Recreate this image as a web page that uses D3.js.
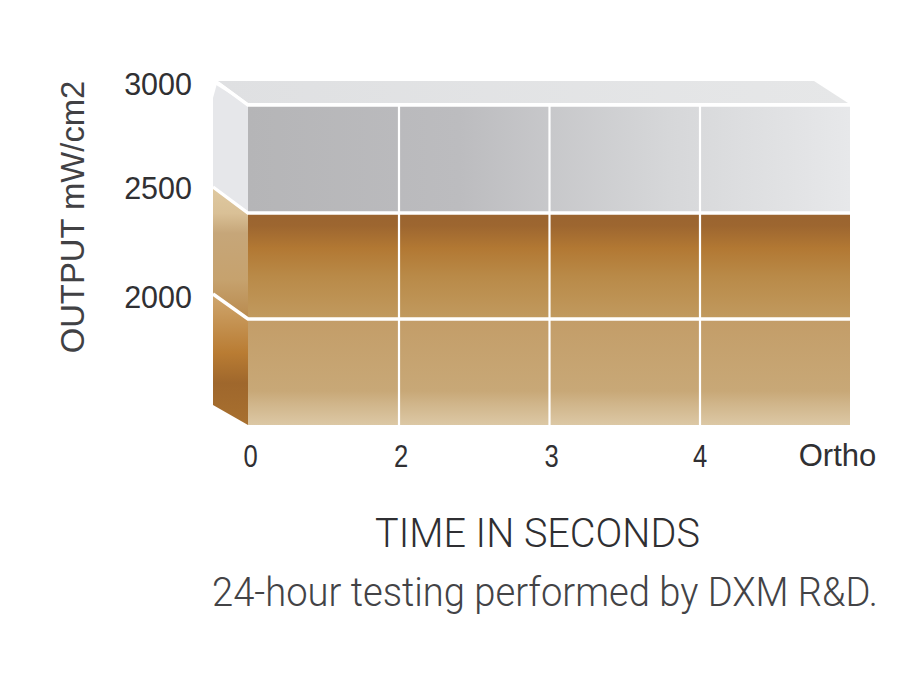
<!DOCTYPE html>
<html>
<head>
<meta charset="utf-8">
<script src="https://cdn.jsdelivr.net/npm/d3@7"></script>
<style>
body { margin: 0; background: #fff; }
</style>
</head>
<body>
<svg id="graph" width="900" height="700"></svg>
<script>
// values
const timeLabels = ['0', '2', '3', '4', 'Ortho'];
const outputLevels = [1500, 2000, 2500, 3000];
const outputTicks = [2000, 2500, 3000];
const bands = [
  { id: 'low', from: 1500, to: 2000 },
  { id: 'mid', from: 2000, to: 2500 },
  { id: 'high', from: 2500, to: 3000 }
];

const svg = d3.select('#graph');
const defs = svg.append('defs');

function gradient(id, stops, horizontal) {
  const g = defs.append('linearGradient')
    .attr('id', id)
    .attr('x1', 0).attr('y1', 0)
    .attr('x2', horizontal ? 1 : 0).attr('y2', horizontal ? 0 : 1);
  stops.forEach(s => g.append('stop').attr('offset', s[0]).attr('stop-color', s[1]));
}

gradient('front-high', [[0, '#b5b5b7'], [0.35, '#bcbcbf'], [0.7, '#d6d7d9'], [1, '#e7e8ea']], true);
gradient('front-mid', [[0, '#9a6430'], [0.12, '#9d6630'], [0.33, '#b27833'], [0.6, '#b98a48'], [1, '#c19a5f']]);
gradient('front-low', [[0, '#c39d68'], [0.68, '#c8a877'], [0.8, '#d0b58a'], [1, '#dcc8a5']]);
gradient('side-high', [[0, '#e6e7ea'], [1, '#e6e7ea']]);
gradient('side-mid', [[0, '#dfc9a1'], [0.2, '#d9c096'], [0.35, '#c6a679'], [0.7, '#c6a26e'], [1, '#b98a4d']]);
gradient('side-low', [[0, '#cfa76f'], [0.45, '#b97c33'], [0.68, '#9f672c'], [1, '#a8702f']]);
gradient('top-face', [[0, '#dfe0e2'], [1, '#e6e7e8']], true);

const x = d3.scalePoint().domain(timeLabels).range([248, 850]);
const y = d3.scaleLinear().domain(outputLevels).range([425, 319, 213, 105]);
// back edge of the block, seen in perspective
const xBack = 213;
const yBack = d3.scaleLinear().domain(outputLevels).range([405, 294, 187, 83]);

const line = d3.line();

// front faces
svg.selectAll('rect.front')
  .data(bands)
  .enter()
  .append('rect')
  .attr('class', 'front')
  .attr('x', x('0'))
  .attr('y', d => y(d.to))
  .attr('width', x('Ortho') - x('0'))
  .attr('height', d => y(d.from) - y(d.to))
  .attr('fill', d => `url(#front-${d.id})`);

// left side faces
svg.selectAll('path.side')
  .data(bands)
  .enter()
  .append('path')
  .attr('class', 'side')
  .attr('d', d => line([
    [xBack, yBack(d.to)], [x('0'), y(d.to)],
    [x('0'), y(d.from)], [xBack, yBack(d.from)]
  ]) + 'Z')
  .attr('fill', d => `url(#side-${d.id})`);

// clipped corner at the top of the side
svg.append('path')
  .attr('d', line([[xBack - 1, yBack(3000) - 3], [218, yBack(3000) - 3], [xBack, yBack(3000) + 15], [xBack - 1, yBack(3000) + 15]]) + 'Z')
  .attr('fill', '#fff');

// top face
const yTop = y(3000);
svg.append('path')
  .attr('d', line([[218, yBack(3000) - 2], [814, yBack(3000) - 2], [848, yTop - 2], [x('0'), yTop - 2]]) + 'Z')
  .attr('fill', 'url(#top-face)');

// white grid on the front
svg.selectAll('line.v')
  .data(timeLabels.slice(1, -1))
  .enter()
  .append('line')
  .attr('class', 'v')
  .attr('x1', d => x(d) + 0.5).attr('x2', d => x(d) + 0.5)
  .attr('y1', y(3000)).attr('y2', y(1500))
  .attr('stroke', '#fff').attr('stroke-width', 2.2);

svg.selectAll('path.h')
  .data(outputTicks)
  .enter()
  .append('path')
  .attr('class', 'h')
  .attr('d', d => line([[d === 3000 ? 218 : xBack, yBack(d)], [x('0'), y(d)], [x('Ortho'), y(d)]]))
  .attr('fill', 'none')
  .attr('stroke', '#fff')
  .attr('stroke-width', 3.4);

// axes
const yAxis = svg.append('g')
  .attr('transform', 'translate(192, 2)')
  .call(d3.axisLeft(yBack).tickValues(outputTicks).tickFormat(d3.format('d')).tickSize(0).tickPadding(0));
const xAxis = svg.append('g')
  .attr('transform', 'translate(2, 444)')
  .call(d3.axisBottom(x).tickSize(0).tickPadding(0));
yAxis.select('.domain').remove();
xAxis.select('.domain').remove();
yAxis.selectAll('text')
  .attr('font-family', '"Liberation Sans", sans-serif')
  .attr('font-size', 30.5)
  .attr('fill', '#303033')
  .attr('y', d => d === 2000 ? 2 : 0);
xAxis.selectAll('text')
  .attr('font-family', '"Liberation Sans", sans-serif')
  .attr('font-size', d => d === 'Ortho' ? 31 : 32)
  .attr('dy', '0.71em')
  .attr('fill', '#303033')
  .attr('transform', d => d === 'Ortho' ? 'translate(-15, 0)' : d === '4' ? 'translate(-2, 0) scale(0.8, 1)' : 'scale(0.8, 1)');

// titles
svg.append('text')
  .attr('transform', 'translate(84, 217) rotate(-90)')
  .attr('text-anchor', 'middle')
  .attr('font-family', '"Liberation Sans", sans-serif')
  .attr('font-size', 32.8)
  .attr('fill', '#414144')
  .text('OUTPUT mW/cm2');

// squeeze a caption to the width it has in the picture
function caption(text, left, baseline, span, fill) {
  const t = svg.append('text')
    .attr('font-family', 'Roboto, sans-serif')
    .attr('font-weight', 300)
    .attr('font-size', 40)
    .attr('fill', fill)
    .text(text);
  const sx = span / t.node().getComputedTextLength();
  t.attr('transform', `translate(${left}, ${baseline}) scale(${sx}, 1)`);
}

caption('TIME IN SECONDS', 375, 547, 325, '#2f2f32');
caption('24-hour testing performed by DXM R&D.', 212, 606, 666, '#434346');
</script>
</body>
</html>
